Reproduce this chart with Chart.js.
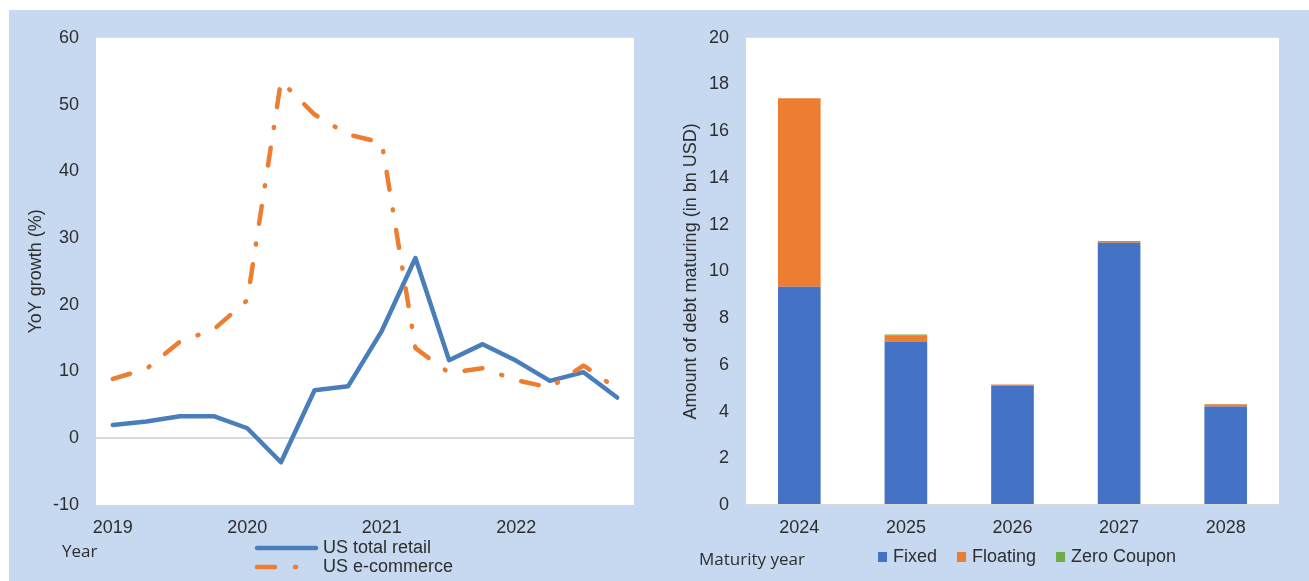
<!DOCTYPE html>
<html>
<head>
<meta charset="utf-8">
<script src="https://cdn.jsdelivr.net/npm/chart.js@4.4.1/dist/chart.umd.min.js"></script>
<style>
  html, body { margin: 0; padding: 0; background: #fff; }
  #panel { position: absolute; left: 9px; top: 10px; width: 1300px; height: 571px; background: #c6d9f0; }
  #growthChart { position: absolute; left: 0; top: 0; }
  #debtChart { position: absolute; left: 650px; top: 0; }
</style>
</head>
<body>
<div id="panel">
  <canvas id="growthChart" width="650" height="571"></canvas>
  <canvas id="debtChart" width="650" height="571"></canvas>
</div>
<script>
// left chart: YoY growth, quarterly
const quarters = ['2019 Q1', '2019 Q2', '2019 Q3', '2019 Q4',
                  '2020 Q1', '2020 Q2', '2020 Q3', '2020 Q4',
                  '2021 Q1', '2021 Q2', '2021 Q3', '2021 Q4',
                  '2022 Q1', '2022 Q2', '2022 Q3', '2022 Q4']
const retailGrowth = [2.0, 2.5, 3.3, 3.3, 1.5, -3.6, 7.2, 7.8, 16.1, 27.0, 11.7, 14.1, 11.6, 8.6, 9.9, 6.1]
const ecommerceGrowth = [8.9, 10.4, 14.5, 16.3, 20.7, 53.5, 48.5, 45.5, 44.3, 13.5, 9.8, 10.5, 8.7, 7.6, 10.9, 7.4]

// right chart: debt maturing by year (bn USD)
const maturityYears = ['2024', '2025', '2026', '2027', '2028']
const fixedDebt = [9.34, 7.0, 5.1, 11.23, 4.22]
const floatingDebt = [8.07, 0.25, 0.06, 0.07, 0.09]
const zeroCouponDebt = [0, 0.05, 0, 0, 0]

const TEXT = '#2e2e2e'
const ARIAL = "'Liberation Sans', Arial, sans-serif"
const tickFont = { family: ARIAL, size: 18 }

Chart.defaults.color = TEXT
Chart.defaults.font.family = ARIAL

const zeroLine = ctx => ctx.tick.value === 0 ? '#d9d9d9' : 'rgba(0,0,0,0)'

const whiteArea = {
    id: 'whiteArea',
    beforeDraw(chart) {
        const a = chart.chartArea
        const ctx = chart.ctx
        ctx.save()
        ctx.fillStyle = '#ffffff'
        ctx.fillRect(a.left, a.top, a.right - a.left, a.bottom - a.top)
        ctx.restore()
    }
}

// "Year" + stacked line legend under the left chart
const lineLegend = {
    id: 'lineLegend',
    afterDraw(chart) {
        const ctx = chart.ctx
        ctx.save()
        ctx.textBaseline = 'middle'
        ctx.fillStyle = TEXT
        ctx.font = "17px 'Open Sans', sans-serif"
        ctx.fillText('Year', 53, 542)
        ctx.font = '18px ' + ARIAL
        chart.data.datasets.forEach(function(ds, i) {
            const y = 538 + i * 19
            const end = ds.borderDash ? 300 : 307
            ctx.strokeStyle = ds.borderColor
            ctx.lineWidth = ds.borderWidth
            ctx.lineCap = 'round'
            ctx.setLineDash(ds.borderDash || [])
            ctx.beginPath()
            ctx.moveTo(248, y)
            ctx.lineTo(end, y)
            ctx.stroke()
            ctx.setLineDash([])
            ctx.fillStyle = TEXT
            ctx.fillText(ds.label, 314, y)
        })
        ctx.restore()
    }
}

// "Maturity year" + box legend under the right chart
const barLegend = {
    id: 'barLegend',
    afterDraw(chart) {
        const ctx = chart.ctx
        ctx.save()
        ctx.textBaseline = 'middle'
        ctx.fillStyle = TEXT
        ctx.font = "17px 'Open Sans', sans-serif"
        ctx.fillText('Maturity year', 40, 550)
        ctx.font = '18px ' + ARIAL
        let x = 219
        chart.data.datasets.forEach(function(ds) {
            ctx.fillStyle = ds.backgroundColor
            ctx.fillRect(x, 542, 9, 10)
            ctx.fillStyle = TEXT
            ctx.fillText(ds.label, x + 15, 547)
            x += 15 + ctx.measureText(ds.label).width + 20
        })
        ctx.restore()
    }
}

new Chart(document.getElementById('growthChart'), {
    type: 'line',
    data: {
        labels: quarters,
        datasets: [{
            label: 'US total retail',
            data: retailGrowth,
            borderColor: '#4a7ebb',
            borderWidth: 4.5,
            borderCapStyle: 'round',
            borderJoinStyle: 'round',
            pointRadius: 0,
            tension: 0,
            order: 1
        }, {
            label: 'US e-commerce',
            data: ecommerceGrowth,
            borderColor: '#ed7d31',
            borderWidth: 4.5,
            borderDash: [18, 20, 1, 20],
            borderCapStyle: 'round',
            borderJoinStyle: 'round',
            pointRadius: 0,
            tension: 0,
            order: 0
        }]
    },
    options: {
        responsive: false,
        animation: false,
        devicePixelRatio: 1,
        layout: { padding: { left: 0, top: 26, right: 25, bottom: 0 } },
        plugins: { legend: { display: false }, tooltip: { enabled: false } },
        scales: {
            x: {
                offset: true,
                grid: { display: false },
                border: { display: false },
                ticks: {
                    autoSkip: false,
                    maxRotation: 0,
                    padding: 4,
                    font: tickFont,
                    callback: function(value, index) {
                        const q = quarters[index]
                        return q.endsWith('Q1') ? q.slice(0, 4) : ''
                    }
                },
                afterFit: function(scale) { scale.height = 76 }
            },
            y: {
                min: -10,
                max: 60,
                ticks: { stepSize: 10, padding: 17, font: tickFont },
                grid: { color: zeroLine, lineWidth: 2, drawTicks: false },
                border: { display: false },
                title: { display: true, text: 'YoY growth (%)', font: tickFont, padding: { top: 16 } },
                afterFit: function(scale) { scale.width = 87 }
            }
        }
    },
    plugins: [whiteArea, lineLegend]
})

new Chart(document.getElementById('debtChart'), {
    type: 'bar',
    data: {
        labels: maturityYears,
        datasets: [
            { label: 'Fixed', data: fixedDebt, backgroundColor: '#4472c4' },
            { label: 'Floating', data: floatingDebt, backgroundColor: '#ed7d31' },
            { label: 'Zero Coupon', data: zeroCouponDebt, backgroundColor: '#70ad47' }
        ]
    },
    options: {
        responsive: false,
        animation: false,
        devicePixelRatio: 1,
        datasets: { bar: { categoryPercentage: 1, barPercentage: 0.4 } },
        layout: { padding: { left: 0, top: 26, right: 30, bottom: 0 } },
        plugins: { legend: { display: false }, tooltip: { enabled: false } },
        scales: {
            x: {
                stacked: true,
                grid: { display: false },
                border: { display: false },
                ticks: { padding: 4, font: tickFont, maxRotation: 0 },
                afterFit: function(scale) { scale.height = 76 }
            },
            y: {
                stacked: true,
                min: 0,
                max: 20,
                ticks: { stepSize: 2, padding: 17, font: tickFont },
                grid: { color: zeroLine, lineWidth: 2, drawTicks: false },
                border: { display: false },
                title: { display: true, text: 'Amount of debt maturing (in bn USD)', font: tickFont, padding: { top: 21 } },
                afterFit: function(scale) { scale.width = 87 }
            }
        }
    },
    plugins: [whiteArea, barLegend]
})
</script>
</body>
</html>
